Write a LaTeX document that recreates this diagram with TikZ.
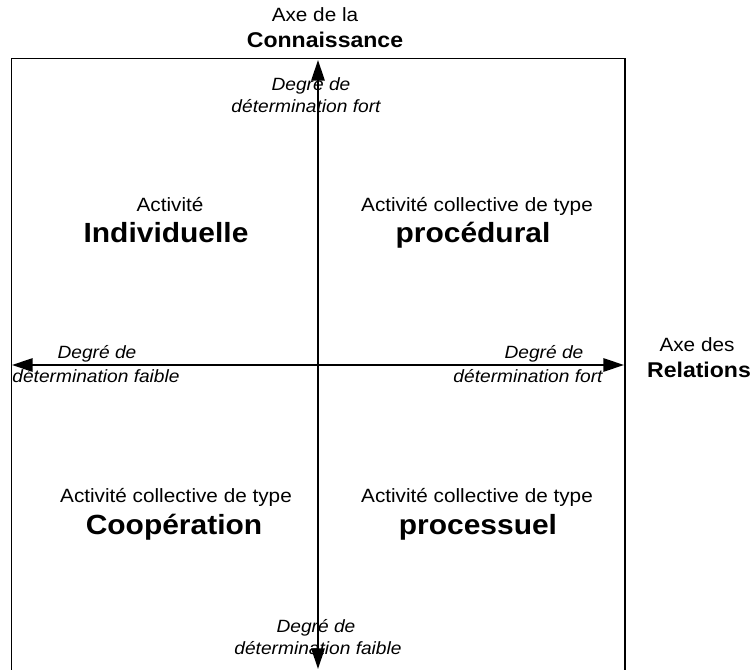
\documentclass[tikz,border=0pt]{standalone}
\usepackage{fontspec}
\setmainfont{Liberation Sans}[FakeStretch=1.08]
\usetikzlibrary{arrows.meta}
\tikzset{
  txt/.style={inner sep=0pt, anchor=base},
  reg/.style={txt, font=\fontsize{14.4}{17}\selectfont},
  bigb/.style={txt, font=\fontsize{20.8}{24}\selectfont\bfseries},
  axb/.style={txt, font=\fontsize{16}{19}\selectfont\bfseries},
  itl/.style={txt, font=\fontsize{13.3}{16}\selectfont\itshape},
  frame/.style={line width=0.9pt},
  axis/.style={line width=1.4pt, {Triangle[length=15.5pt,width=10pt]}-{Triangle[length=15.5pt,width=10pt]}}
}
\begin{document}
\begin{tikzpicture}[x=0.75pt,y=-0.75pt]
\useasboundingbox (0,0) rectangle (751,670);
% frame
\coordinate (fbl) at (11.5,675);
\coordinate (ftl) at (11.5,58.5);
\coordinate (ftr) at (625,58.5);
\coordinate (fbr) at (625,675);
\draw[frame] (fbl) -- (ftl) -- (ftr) -- (fbr);
% axes
\coordinate (vtop) at (318,60);
\coordinate (vbot) at (318,669);
\coordinate (hleft) at (12,365);
\coordinate (hright) at (624,365);
\draw[axis] (vbot) -- (vtop);
\draw[axis] (hleft) -- (hright);
% axis titles
\node[reg] (axk1) at (315,22) {Axe de la};
\node[axb] (axk2) at (325,48) {Connaissance};
\node[reg] (axr1) at (697,352) {Axe des};
\node[axb] (axr2) at (699,378) {Relations};
% quadrants
\node[reg] (q1a) at (170,212) {Activité};
\node[bigb] (q1b) at (166,243) {Individuelle};
\node[reg] (q2a) at (477,212) {Activité collective de type};
\node[bigb] (q2b) at (473,243) {procédural};
\node[reg] (q3a) at (176,503) {Activité collective de type};
\node[bigb] (q3b) at (174,535) {Coopération};
\node[reg] (q4a) at (477,503) {Activité collective de type};
\node[bigb] (q4b) at (478,535) {processuel};
% axis end labels
\node[itl] (t1) at (311,91) {Degré de};
\node[itl] (t2) at (306,113) {détermination fort};
\node[itl] (l1) at (97,359) {Degré de};
\node[itl] (l2) at (96,383) {détermination faible};
\node[itl] (r1) at (544,359) {Degré de};
\node[itl] (r2) at (528,383) {détermination fort};
\node[itl] (b1) at (316,633) {Degré de};
\node[itl] (b2) at (318,655) {détermination faible};
\end{tikzpicture}
\end{document}
